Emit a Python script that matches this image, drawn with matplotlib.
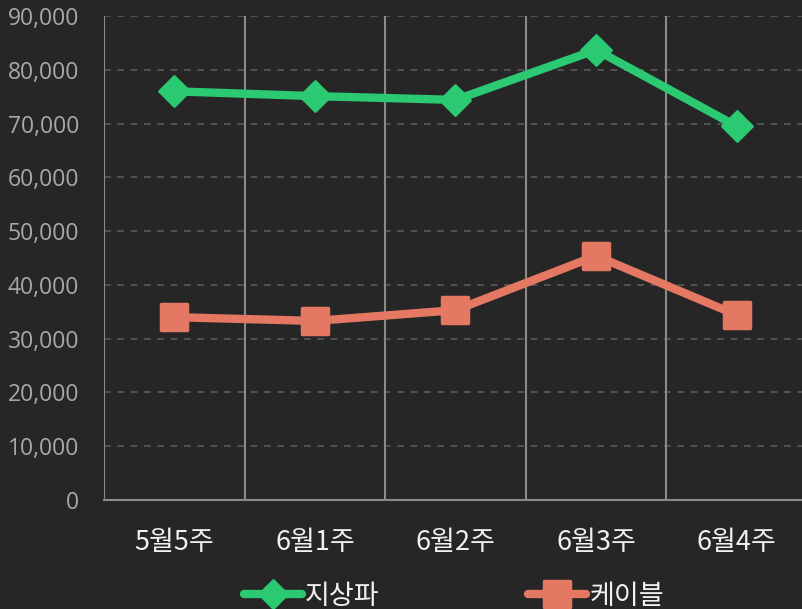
import matplotlib
matplotlib.use("Agg")
import matplotlib.pyplot as plt
from matplotlib.ticker import FuncFormatter, MultipleLocator
from matplotlib.markers import MarkerStyle

categories = ["5월5주", "6월1주", "6월2주", "6월3주", "6월4주"]
terrestrial = [76000, 75100, 74400, 83700, 69500]
cable = [34000, 33300, 35300, 45400, 34400]
series_names = ["지상파", "케이블"]

plt.rcParams['font.family'] = ['Noto Sans CJK KR', 'DejaVu Sans']

bg = "#262626"
green = "#2ac972"
orange = "#e57862"

fig = plt.figure(figsize=(8.03, 6.09), dpi=100)
fig.patch.set_facecolor(bg)
W, H = 803, 609
left, right, top, bottom = 104, 807, 16, 500
ax = fig.add_axes([left / W, 1 - bottom / H, (right - left) / W, (bottom - top) / H])
ax.set_facecolor(bg)

x = list(range(len(categories)))
ax.plot(x, terrestrial, color=green, lw=6,
        marker=MarkerStyle('D', joinstyle='round'), markersize=15.5,
        markeredgewidth=2, markeredgecolor=green, solid_joinstyle='round',
        solid_capstyle='round', label=series_names[0], zorder=4)
ax.plot(x, cable, color=orange, lw=6,
        marker=MarkerStyle('s', joinstyle='round'), markersize=19,
        markeredgewidth=2.5, markeredgecolor=orange, solid_joinstyle='round',
        solid_capstyle='round', label=series_names[1], zorder=4)

ax.set_xlim(-0.5, len(categories) - 0.5)
ax.set_ylim(0, 90000)
ax.yaxis.set_major_locator(MultipleLocator(10000))
ax.yaxis.set_major_formatter(FuncFormatter(lambda v, p: f"{int(v):,}"))
ax.grid(axis='y', color='#5a5a5a', linestyle=(0, (4, 4)), linewidth=1.2)
for i in range(len(categories) + 1):
    ax.axvline(i - 0.5, color='#8a8a8a', lw=1.5, zorder=2)

for s in ['top', 'right', 'left']:
    ax.spines[s].set_visible(False)
ax.spines['bottom'].set_color('#8a8a8a')
ax.spines['bottom'].set_linewidth(1.5)

ax.set_xticks(x)
ax.set_xticklabels(categories, fontsize=19.5, color='#f0f0f0')
ax.tick_params(axis='x', length=0, pad=21)
ax.tick_params(axis='y', length=0, pad=18, labelsize=16.5, labelcolor='#a8a8a8')
for lbl in ax.get_yticklabels():
    lbl.set_family(['Open Sans', 'DejaVu Sans'])

leg = fig.legend(loc='center', bbox_to_anchor=(0.565, 0.021), ncol=2,
                 frameon=False, fontsize=19.5, labelcolor='#f0f0f0',
                 handlelength=2.15, handletextpad=0.1, columnspacing=5.5,
                 markerscale=0.95)

fig.savefig("out.png", dpi=100, facecolor=bg)
